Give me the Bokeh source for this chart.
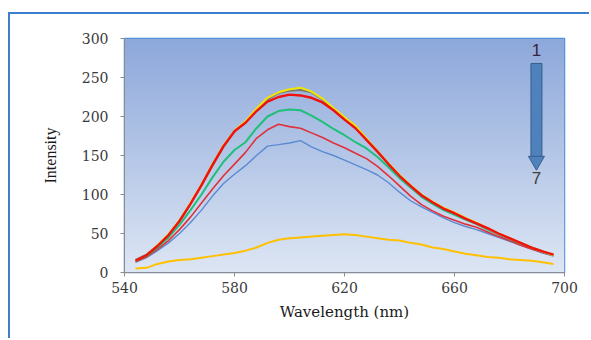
import numpy as np
from bokeh.plotting import figure
from bokeh.models import Range1d, Label, FixedTicker
from bokeh.embed import file_html
from bokeh.resources import INLINE

# ---- data ----
wavelength = [544, 548, 552, 556, 560, 564, 568, 572, 576, 580, 584, 588, 592, 596, 600,
              604, 608, 612, 616, 620, 624, 628, 632, 636, 640, 644, 648, 652, 656, 660,
              664, 668, 672, 676, 680, 684, 688, 692, 696]
s1_yellow = [15, 22, 35, 49, 67, 89, 113, 139, 163, 182, 194, 210, 224, 231, 235, 237, 232, 223, 211, 199,
             188, 172, 156, 140, 125, 112, 100, 91, 83, 77, 70, 64, 57, 50, 44, 38, 32, 27, 22]
s2_gray = [16, 23, 35, 48, 66, 88, 112, 137, 161, 181, 193, 208, 222, 230, 233, 234, 231, 222, 209, 197,
           187, 170, 155, 139, 124, 111, 99, 90, 82, 76, 69, 63, 56, 49, 43, 38, 32, 27, 22]
s3_red = [15, 22, 34, 48, 66, 88, 112, 138, 162, 181, 192, 207, 219, 225, 228, 227, 224, 218, 208, 196,
          185, 170, 155, 139, 124, 111, 99, 90, 82, 76, 69, 63, 57, 50, 44, 38, 32, 27, 23]
s4_green = [15, 21, 32, 45, 61, 80, 100, 122, 142, 157, 167, 185, 200, 207, 209, 208, 201, 193, 184, 176,
            167, 159, 148, 135, 121, 109, 97, 88, 80, 74, 68, 62, 55, 49, 43, 37, 32, 27, 22]
s5_red_thin = [14, 20, 30, 41, 55, 71, 89, 107, 124, 139, 154, 172, 183, 190, 187, 185, 179, 173, 166, 160,
               153, 146, 136, 124, 111, 98, 87, 79, 72, 67, 62, 58, 52, 46, 41, 35, 30, 26, 22]
s6_blue = [13, 19, 28, 38, 50, 64, 80, 98, 114, 126, 137, 150, 162, 164, 166, 169, 161, 155, 150, 144,
           138, 132, 125, 115, 103, 92, 84, 77, 70, 64, 59, 55, 50, 45, 40, 35, 30, 25, 21]
s7_orange = [5, 6, 11, 14, 16, 17, 19, 21, 23, 25, 28, 32, 38, 42, 44, 45, 46, 47, 48, 49,
             48, 46, 44, 42, 41, 38, 36, 32, 30, 27, 24, 22, 20, 19, 17, 16, 15, 13, 11]
x_ticks = [540, 580, 620, 660, 700]
y_ticks = [0, 50, 100, 150, 200, 250, 300]

X0, X1, Y0, Y1 = 540, 700, 0, 300

p = figure(width=581, height=326, output_backend="svg", toolbar_location=None,
           x_range=Range1d(X0, X1), y_range=Range1d(Y0, Y1),
           min_border_left=114, min_border_right=27, min_border_top=24, min_border_bottom=68)
p.margin = (12, 0, 0, 8)
p.styles = {"border-top": "2px solid #3C7FCC", "border-left": "2px solid #3C7FCC"}

p.background_fill_color = "#C4D3EE"
p.border_fill_color = "white"
p.outline_line_color = "#4A8AD6"
p.outline_line_width = 1.5
p.xgrid.visible = False
p.ygrid.visible = False

# gradient background in the plot frame
n = 200
t = np.linspace(0, 1, n)[:, None]  # 0 bottom, 1 top
bot = np.array([221, 230, 244])
top = np.array([141, 168, 219])
rgb = (bot * (1 - t) + top * t).astype(np.uint32)
img = np.empty((n, 1), dtype=np.uint32)
view = img.view(dtype=np.uint8).reshape((n, 1, 4))
view[:, :, 0] = rgb[:, 0:1]
view[:, :, 1] = rgb[:, 1:2]
view[:, :, 2] = rgb[:, 2:3]
view[:, :, 3] = 255
p.image_rgba(image=[img], x=X0, y=Y0, dw=X1 - X0, dh=Y1 - Y0, level="image")

# curves
p.line(wavelength, s7_orange, line_color="#FFC000", line_width=2)
p.line(wavelength, s6_blue, line_color="#5A8AD2", line_width=1.4)
p.line(wavelength, s5_red_thin, line_color="#E0303A", line_width=1.6)
p.line(wavelength, s4_green, line_color="#1FBF7A", line_width=2)
p.line(wavelength, s2_gray, line_color="#7F7A70", line_width=2)
p.line(wavelength, s1_yellow, line_color="#F2E600", line_width=2)
p.line(wavelength, s3_red, line_color="#F01010", line_width=2.4)

# arrow 1 -> 7
ax = 689.8
p.rect(x=[ax], y=[(268 + 147) / 2], width=11, width_units="screen",
       height=268 - 147, fill_color="#4F81BD", line_color="#385D8A", line_width=1)
p.scatter(x=[ax], y=[143], marker="inverted_triangle", size=16,
          fill_color="#4F81BD", line_color="#385D8A", line_width=1)
p.add_layout(Label(x=ax, y=285, text="1", text_align="center", text_baseline="middle",
                   text_font="Liberation Sans", text_font_size="17px", text_color="#3B2340"))
p.add_layout(Label(x=ax, y=121, text="7", text_align="center", text_baseline="middle",
                   text_font="Liberation Sans", text_font_size="17px", text_color="#404040"))

# axes
p.xaxis.ticker = FixedTicker(ticks=x_ticks)
p.yaxis.ticker = FixedTicker(ticks=y_ticks)
for ax_ in (p.xaxis, p.yaxis):
    ax_.axis_line_color = "#8C8C8C"
    ax_.major_tick_line_color = "#8C8C8C"
    ax_.major_tick_in = 0
    ax_.major_tick_out = 4
    ax_.minor_tick_line_color = None
    ax_.major_label_text_font = "DejaVu Serif"
    ax_.major_label_text_font_size = "14px"
    ax_.major_label_text_color = "#3A3A3A"
    ax_.axis_label_text_font = "DejaVu Serif"
    ax_.axis_label_text_font_style = "normal"
    ax_.axis_label_text_color = "#1A1A1A"
p.yaxis.major_label_standoff = 12
p.xaxis.major_label_standoff = 5
p.xaxis.axis_label = "Wavelength (nm)"
p.xaxis.axis_label_text_font_size = "15px"
p.xaxis.axis_label_standoff = 7
p.yaxis.axis_label = "Intensity"
p.yaxis.axis_label_text_font = "Liberation Serif"
p.yaxis.axis_label_text_font_size = "16px"
p.yaxis.axis_label_standoff = 20

open("out.html", "w").write(file_html(p, INLINE))
